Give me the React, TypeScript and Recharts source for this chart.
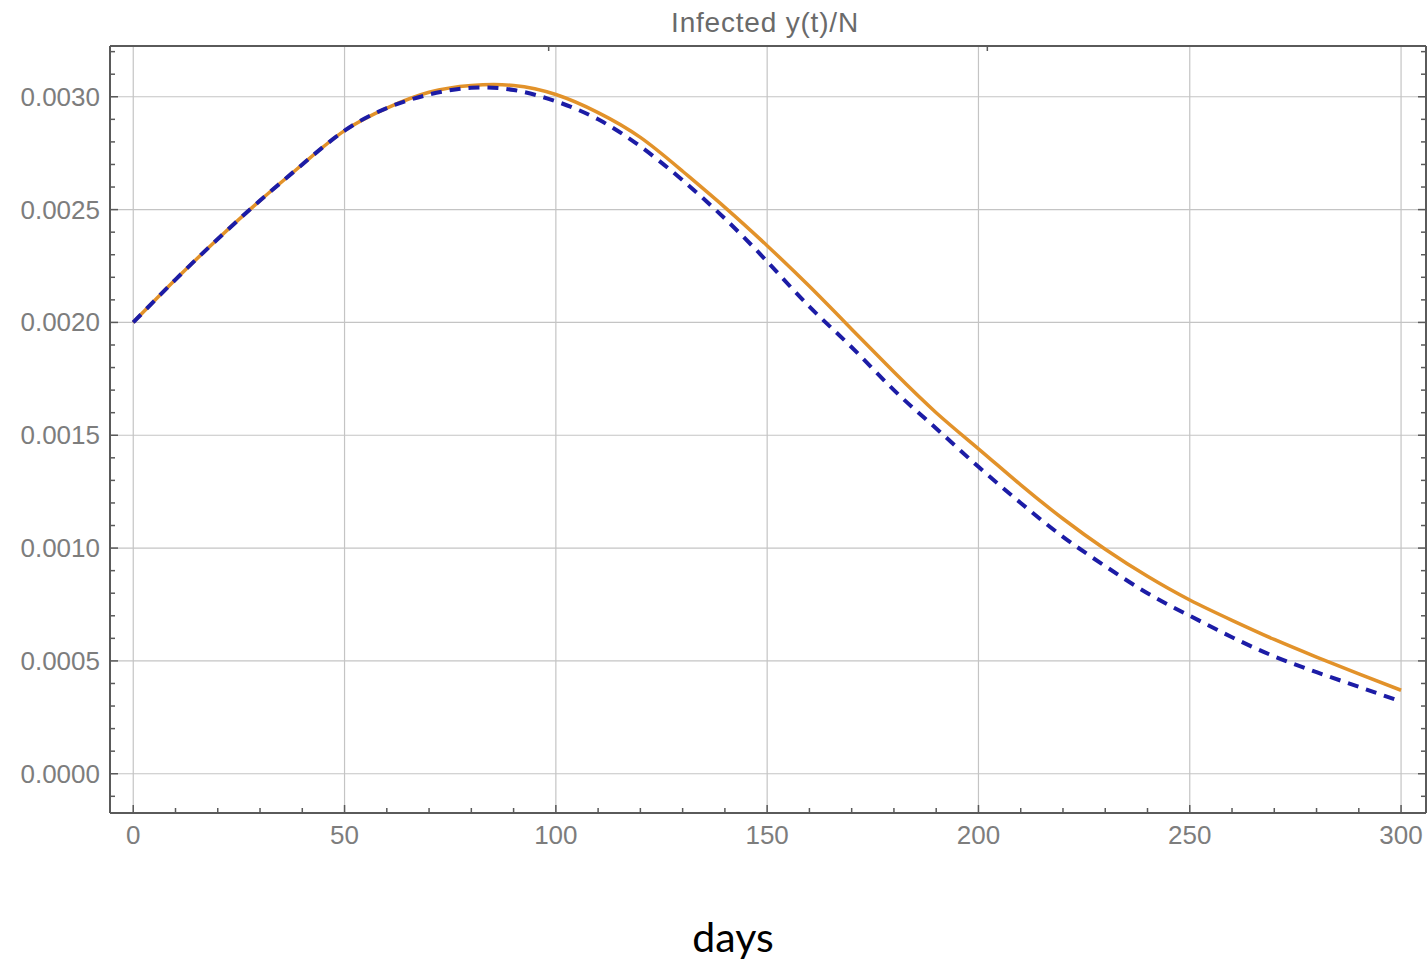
import React from 'react';
import { LineChart, Line, XAxis, YAxis, CartesianGrid } from 'recharts';

// days on the x axis
const days = [0, 10, 20, 30, 40, 50, 60, 70, 80, 90, 100, 110, 120, 130, 140, 150, 160, 170, 180, 190, 200, 210, 220, 230, 240, 250, 260, 270, 280, 290, 300];

// solid orange curve
const solidSeries = [
  0.002, 0.00219, 0.00237, 0.00254, 0.0027, 0.00285, 0.00295, 0.00302, 0.00305, 0.00305,
  0.00301, 0.00293, 0.00282, 0.00267, 0.00251, 0.00234, 0.00216, 0.00197, 0.00178, 0.0016,
  0.00144, 0.00128, 0.00113, 0.000995, 0.000875, 0.00077, 0.00068, 0.000595, 0.000517, 0.000442,
  0.00037,
];

// dashed blue curve
const dashedSeries = [
  0.002, 0.00219, 0.00237, 0.00254, 0.0027, 0.00285, 0.00295, 0.00301, 0.00304, 0.00303,
  0.00298, 0.0029, 0.00278, 0.00263, 0.00246, 0.00227, 0.00207, 0.00189, 0.0017, 0.00153,
  0.00136, 0.0012, 0.00105, 0.00092, 0.0008, 0.0007, 0.000605, 0.00052, 0.00045, 0.000385,
  0.00032,
];

const xMajorTicks = [0, 50, 100, 150, 200, 250, 300];
const xMinorTicks = [0, 10, 20, 30, 40, 50, 60, 70, 80, 90, 100, 110, 120, 130, 140, 150, 160, 170, 180, 190, 200, 210, 220, 230, 240, 250, 260, 270, 280, 290, 300];
const yMajorTicks = [0, 0.0005, 0.001, 0.0015, 0.002, 0.0025, 0.003];
const yMinorTicks = [
  -0.0001, 0, 0.0001, 0.0002, 0.0003, 0.0004, 0.0005, 0.0006, 0.0007, 0.0008, 0.0009,
  0.001, 0.0011, 0.0012, 0.0013, 0.0014, 0.0015, 0.0016, 0.0017, 0.0018, 0.0019,
  0.002, 0.0021, 0.0022, 0.0023, 0.0024, 0.0025, 0.0026, 0.0027, 0.0028, 0.0029,
  0.003, 0.0031, 0.0032,
];

const X_DOMAIN = [-5.5, 305.9];
const Y_DOMAIN = [-0.000174, 0.003225];

const frameColor = '#5a5a5a';
const labelColor = '#7d7d7d';
const tickFont = '"Liberation Sans", Arial, sans-serif';

const data = days.map((d, i) => ({ day: d, solid: solidSeries[i], dashed: dashedSeries[i] }));

const isMajorX = (v: number) => v % 50 === 0;
const isMajorY = (v: number) => Math.round(v * 10000) % 5 === 0;

const BottomTick = (props: any) => {
  const { x, y, payload } = props;
  const v = payload.value;
  const major = isMajorX(v);
  return (
    <g>
      <line x1={x} x2={x} y1={y} y2={y - (major ? 8 : 5)} stroke={frameColor} strokeWidth={1.5} />
      {major && (
        <text x={x} y={y + 31} textAnchor="middle" fill={labelColor} fontSize={26} fontFamily={tickFont}>
          {v}
        </text>
      )}
    </g>
  );
};

const TopTick = (props: any) => {
  const { x, y, payload } = props;
  const major = isMajorX(payload.value);
  return <line x1={x} x2={x} y1={y} y2={y + (major ? 8 : 5)} stroke={frameColor} strokeWidth={1.5} />;
};

const LeftTick = (props: any) => {
  const { x, y, payload } = props;
  const v = payload.value;
  const major = isMajorY(v);
  return (
    <g>
      <line x1={x} x2={x + (major ? 8 : 5)} y1={y} y2={y} stroke={frameColor} strokeWidth={1.5} />
      {major && (
        <text x={x - 10} y={y + 9} textAnchor="end" fill={labelColor} fontSize={26} fontFamily={tickFont}>
          {v.toFixed(4)}
        </text>
      )}
    </g>
  );
};

const RightTick = (props: any) => {
  const { x, y, payload } = props;
  const major = isMajorY(payload.value);
  return <line x1={x} x2={x - (major ? 8 : 5)} y1={y} y2={y} stroke={frameColor} strokeWidth={1.5} />;
};

export default function App() {
  return (
    <div style={{ position: 'absolute', left: 0, top: 0, width: 1427, height: 967, background: '#fff' }}>
      <LineChart width={1427} height={967} data={data} margin={{ top: 45, right: 0, bottom: 0, left: 0 }}>
        <CartesianGrid
          stroke="#c4c4c4"
          strokeWidth={1.2}
          horizontalValues={yMajorTicks}
          verticalValues={xMajorTicks}
        />
        <XAxis
          dataKey="day"
          type="number"
          domain={X_DOMAIN}
          allowDataOverflow
          ticks={xMinorTicks}
          interval={0}
          tickSize={0}
          tickMargin={0}
          tick={<BottomTick />}
          height={154}
          axisLine={{ stroke: frameColor, strokeWidth: 2 }}
        />
        <XAxis
          xAxisId="top"
          orientation="top"
          type="number"
          domain={X_DOMAIN}
          allowDataOverflow
          ticks={xMinorTicks}
          interval={0}
          tickSize={0}
          tickMargin={0}
          tick={<TopTick />}
          height={1}
          axisLine={{ stroke: frameColor, strokeWidth: 2 }}
        />
        <YAxis
          type="number"
          domain={Y_DOMAIN}
          allowDataOverflow
          ticks={yMinorTicks}
          interval={0}
          tickSize={0}
          tickMargin={0}
          tick={<LeftTick />}
          width={110}
          axisLine={{ stroke: frameColor, strokeWidth: 2 }}
        />
        <YAxis
          yAxisId="right"
          orientation="right"
          type="number"
          domain={Y_DOMAIN}
          allowDataOverflow
          ticks={yMinorTicks}
          interval={0}
          tickSize={0}
          tickMargin={0}
          tick={<RightTick />}
          width={1}
          axisLine={{ stroke: frameColor, strokeWidth: 2 }}
        />
        <Line
          type="natural"
          dataKey="solid"
          stroke="#e2922a"
          strokeWidth={3.5}
          dot={false}
          isAnimationActive={false}
        />
        <Line
          type="natural"
          dataKey="dashed"
          stroke="#1c1ca6"
          strokeWidth={4}
          strokeDasharray="11 8"
          dot={false}
          isAnimationActive={false}
        />
      </LineChart>
      <svg width={1427} height={967} style={{ position: 'absolute', left: 0, top: 0, pointerEvents: 'none' }}>
        <text x={765} y={32} textAnchor="middle" fill="#6a6a6a" fontSize={28} letterSpacing={0.8} fontFamily={tickFont}>
          Infected y(t)/N
        </text>
        <text x={733} y={952} textAnchor="middle" fill="#000" fontSize={41} fontFamily="Lato, 'Open Sans', sans-serif">
          days
        </text>
      </svg>
    </div>
  );
}
